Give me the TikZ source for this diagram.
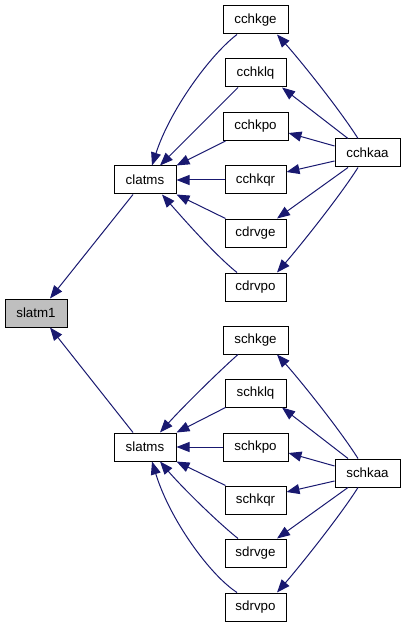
\documentclass[tikz,border=0pt]{standalone}
\usepackage{fontspec}
\setmainfont{Liberation Sans}
\usetikzlibrary{arrows.meta,calc}
\definecolor{edgeblue}{RGB}{25,25,112}
\definecolor{nodegray}{RGB}{191,191,191}
\tikzset{
  fn/.style={draw=black, line width=0.75pt, fill=white, inner sep=0pt,
    minimum height=21pt, font=\fontsize{10pt}{12pt}\selectfont},
  wide/.style={fn, minimum width=48.75pt},
  narrow/.style={fn, minimum width=45.75pt},
  mid/.style={fn, minimum width=46.5pt},
  edge/.style={draw=edgeblue, line width=0.75pt,
    -{Triangle[length=9.75pt, width=7.5pt]}},
}
\begin{document}
\begin{tikzpicture}[x=0.75pt, y=-0.75pt]
\useasboundingbox (0,0) rectangle (405,627);
% nodes
\node[mid, fill=nodegray] (slatm1) at (36,313) {slatm1};
\node[mid] (clatms) at (145,180) {clatms};
\node[mid] (slatms) at (145,447) {slatms};
\node[wide]   (cchkge) at (255.5,20) {cchkge};
\node[narrow] (cchklq) at (255.5,73) {cchklq};
\node[wide]   (cchkpo) at (255.5,126.5) {cchkpo};
\node[narrow] (cchkqr) at (255.5,180) {cchkqr};
\node[narrow] (cdrvge) at (255.5,233) {cdrvge};
\node[narrow] (cdrvpo) at (255.5,287) {cdrvpo};
\node[wide]   (cchkaa) at (367.5,153) {cchkaa};
\node[wide]   (schkge) at (255.5,340) {schkge};
\node[narrow] (schklq) at (255.5,393) {schklq};
\node[wide]   (schkpo) at (255.5,447) {schkpo};
\node[narrow] (schkqr) at (255.5,500) {schkqr};
\node[narrow] (sdrvge) at (255.5,553) {sdrvge};
\node[narrow] (sdrvpo) at (255.5,607) {sdrvpo};
\node[wide]   (schkaa) at (367.5,473) {schkaa};
% to slatm1
\draw[edge] ($(clatms.south)+(-12,0)$) -- ($(slatm1.north)+(14,0)$);
\draw[edge] ($(slatms.north)+(-12,0)$) -- ($(slatm1.south)+(14,0)$);
% top callers of clatms
\draw[edge] ($(cchkge.south)+(-18.5,0)$) .. controls (210,55) and (170,110) .. ($(clatms.north)+(7,0)$);
\draw[edge] ($(cchklq.south)+(-17.5,0)$) -- ($(clatms.north)+(15,0)$);
\draw[edge] ($(cchkpo.south west)+(3,0)$) -- (clatms.north east);
\draw[edge] (cchkqr.west) -- (clatms.east);
\draw[edge] ($(cdrvge.north west)+(1,0)$) -- (clatms.south east);
\draw[edge] ($(cdrvpo.north)+(-18.5,0)$) .. controls (215,255) and (180,215) .. ($(clatms.south)+(17,0)$);
% cchkaa
\draw[edge] ($(cchkaa.north)+(-9.5,0)$) .. controls (340,110) and (300,60) .. ($(cchkge.south)+(21.5,0)$);
\draw[edge] ($(cchkaa.north)+(-19.5,0)$) -- ($(cchklq.south)+(26.5,0)$);
\draw[edge] ($(cchkaa.west)+(0,-7)$) -- ($(cchkpo.east)+(0,6.5)$);
\draw[edge] ($(cchkaa.west)+(0,8)$) -- ($(cchkqr.east)+(0,-8)$);
\draw[edge] ($(cchkaa.south)+(-19.5,0)$) -- ($(cdrvge.north)+(21.5,0)$);
\draw[edge] ($(cchkaa.south)+(-9.5,0)$) .. controls (340,196) and (300,246) .. ($(cdrvpo.north)+(21.5,0)$);
% bottom callers of slatms
\draw[edge] ($(schkge.south)+(-17.5,0)$) .. controls (215,375) and (180,410) .. ($(slatms.north)+(15,0)$);
\draw[edge] ($(schklq.south west)+(1,0)$) -- (slatms.north east);
\draw[edge] (schkpo.west) -- (slatms.east);
\draw[edge] ($(schkqr.north west)+(1,0)$) -- (slatms.south east);
\draw[edge] ($(sdrvge.north)+(-17.5,0)$) .. controls (215,520) and (180,485) .. ($(slatms.south)+(15,0)$);
\draw[edge] ($(sdrvpo.north)+(-18.5,0)$) .. controls (210,575) and (170,520) .. ($(slatms.south)+(7,0)$);
% schkaa
\draw[edge] ($(schkaa.north)+(-9.5,0)$) .. controls (340,430) and (300,380) .. ($(schkge.south)+(21.5,0)$);
\draw[edge] ($(schkaa.north)+(-19.5,0)$) -- ($(schklq.south)+(26.5,0)$);
\draw[edge] ($(schkaa.west)+(0,-7)$) -- ($(schkpo.east)+(0,6)$);
\draw[edge] ($(schkaa.west)+(0,8)$) -- ($(schkqr.east)+(0,-8)$);
\draw[edge] ($(schkaa.south)+(-19.5,0)$) -- ($(sdrvge.north)+(21.5,0)$);
\draw[edge] ($(schkaa.south)+(-9.5,0)$) .. controls (340,516) and (300,566) .. ($(sdrvpo.north)+(21.5,0)$);
\end{tikzpicture}
\end{document}
